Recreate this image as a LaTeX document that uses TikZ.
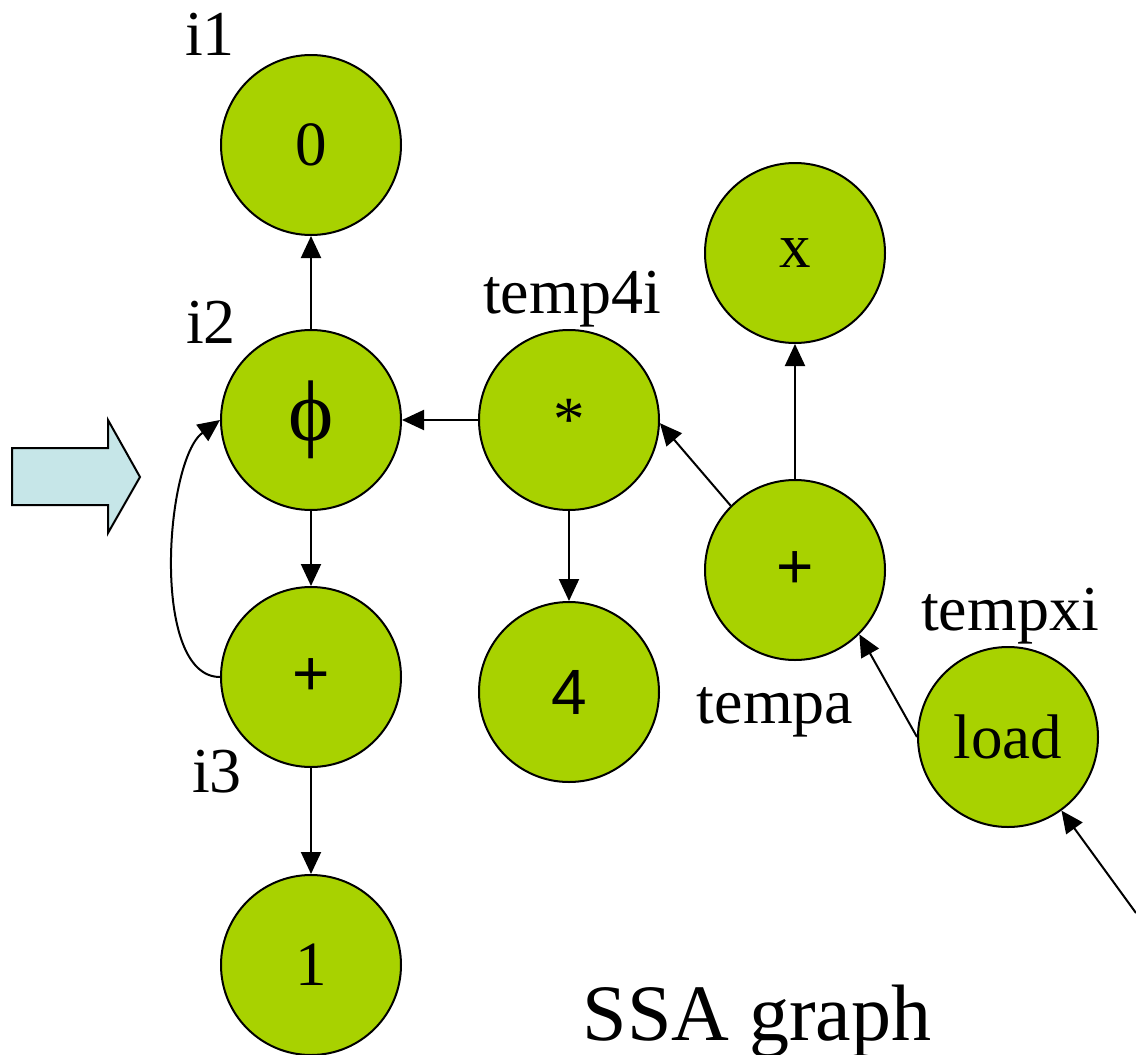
\documentclass[tikz,border=0pt]{standalone}
\usepackage{fontspec}
\setmainfont{Liberation Serif}
\newfontfamily\arialfont{Liberation Sans}
\usetikzlibrary{arrows.meta}
\definecolor{nodegreen}{RGB}{168,210,0}
\definecolor{arrowcyan}{RGB}{198,230,232}
\begin{document}
\begin{tikzpicture}[x=1pt,y=-1pt,
  vnode/.style={circle,draw=black,line width=2pt,fill=nodegreen,minimum size=180pt,inner sep=0pt,
    font=\fontsize{63}{70}\selectfont},
  snode/.style={vnode,font=\arialfont\fontsize{64}{70}\selectfont},
  lbl/.style={anchor=base,inner sep=0pt,font=\fontsize{64}{70}\selectfont},
  edge/.style={line width=2pt,-{Triangle[length=22pt,width=20pt]}},
  plain/.style={line width=2pt}]
\useasboundingbox (0,0) rectangle (1136,1055);
% nodes
\node[vnode] (n0) at (311,145) {0};
\node[vnode,font=\fontsize{86}{90}\selectfont] (phi) at (311,420) {\symbol{"03D5}};
\node[snode] (pl) at (311,677) {+};
\node[vnode] (n1) at (311,965) {1};
\node[vnode] (mul) at (569,420) {*};
\node[snode] (n4) at (569,692) {4};
\node[vnode] (nx) at (795,253) {x};
\node[snode] (pr) at (795,570) {+};
\node[vnode] (ld) at (1008,737) {load};
% labels
\node[lbl] (li1) at (210,55) {i1};
\node[lbl] (li2) at (211,343) {i2};
\node[lbl] (li3) at (217,792) {i3};
\node[lbl] (lt4) at (572,313) {temp4i};
\node[lbl] (lta) at (775,723) {tempa};
\node[lbl] (ltx) at (1010,630) {tempxi};
\node[anchor=base,inner sep=0pt,font=\fontsize{80}{86}\selectfont] (ssa) at (757,1040) {SSA graph};
% block arrow
\draw[line width=2pt,fill=arrowcyan,line join=miter] (12,448) -- (108,448) -- (108,420) -- (140,477) -- (108,533) -- (108,505) -- (12,505) -- cycle;
% edges
\draw[edge] (phi.north) -- (n0.south);
\draw[edge] (phi.south) -- (pl.north);
\draw[edge] (pl.south) -- (n1.north);
\draw[edge] (mul.west) -- (phi.east);
\draw[edge] (mul.south) -- (n4.north);
\draw[edge] (pr.north) -- (nx.south);
\draw[edge] (pr.north west) -- (mul.-2);
\draw[edge] (ld.west) -- (pr.south east);
\coordinate (freeend) at (1136,913);
\draw[edge] (freeend) -- (ld.-54);
\draw[edge] (pl.west) .. controls (150,677) and (165,460) .. (phi.west);
\end{tikzpicture}
\end{document}
